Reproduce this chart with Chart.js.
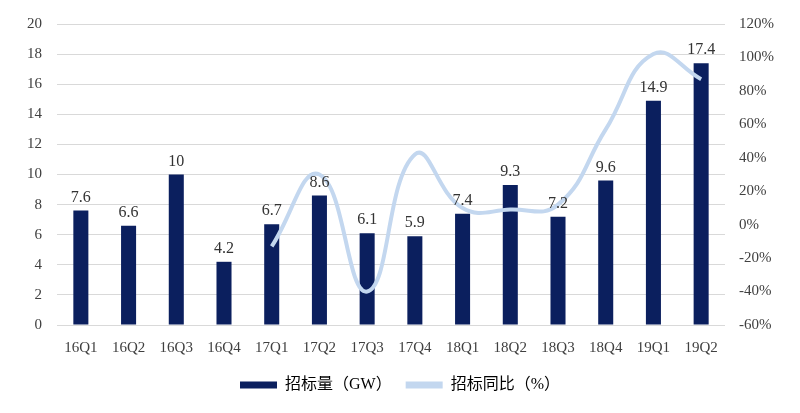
<!DOCTYPE html>
<html>
<head>
<meta charset="utf-8">
<script src="https://cdn.jsdelivr.net/npm/chart.js@4/dist/chart.umd.min.js"></script>
<style>
  html, body { margin: 0; padding: 0; background: #fff; }
  #wrap { width: 800px; height: 413px; }
</style>
</head>
<body>
<div id="wrap"><canvas id="chart" width="800" height="413"></canvas></div>
<script>
// Data
const quarters = ['16Q1','16Q2','16Q3','16Q4','17Q1','17Q2','17Q3','17Q4','18Q1','18Q2','18Q3','18Q4','19Q1','19Q2'];
const volume = [7.6, 6.6, 10, 4.2, 6.7, 8.6, 6.1, 5.9, 7.4, 9.3, 7.2, 9.6, 14.9, 17.4];
const yoy = [null, null, null, null, -13, 30, -40, 42, 10, 9, 12, 57, 102, 87];
const leftTicks = [0, 2, 4, 6, 8, 10, 12, 14, 16, 18, 20];
const rightTicks = [-60, -40, -20, 0, 20, 40, 60, 80, 100, 120];

const fontFamily = '"Liberation Serif", "Noto Sans CJK SC", serif';

// Value labels above the bars
const barLabels = {
    id: 'barLabels',
    afterDatasetsDraw(chart) {
        const ctx = chart.ctx;
        const meta = chart.getDatasetMeta(1);
        ctx.save();
        ctx.font = '16px ' + fontFamily;
        ctx.fillStyle = '#333';
        ctx.textAlign = 'center';
        ctx.textBaseline = 'bottom';
        meta.data.forEach((bar, i) => {
            ctx.fillText(String(volume[i]), bar.x, bar.y - 5);
        });
        ctx.restore();
    }
};

const ctx = document.getElementById('chart').getContext('2d');
new Chart(ctx, {
    data: {
        labels: quarters,
        datasets: [
            {
                type: 'line',
                label: '招标同比（%）',
                data: yoy,
                yAxisID: 'y1',
                borderColor: '#c3d7ef',
                backgroundColor: '#c3d7ef',
                borderWidth: 4,
                pointRadius: 0,
                tension: 0.45,
                order: 0
            },
            {
                type: 'bar',
                label: '招标量（GW）',
                data: volume,
                yAxisID: 'y',
                backgroundColor: '#0b1f5e',
                categoryPercentage: 1,
                barPercentage: 0.315,
                order: 1
            }
        ]
    },
    options: {
        responsive: false,
        animation: false,
        layout: { padding: { left: 12, right: 12, top: 7, bottom: 10 } },
        plugins: {
            legend: {
                position: 'bottom',
                reverse: true,
                labels: {
                    font: { size: 16, family: fontFamily },
                    color: '#404040',
                    boxWidth: 37,
                    boxHeight: 7,
                    padding: 14,
                    generateLabels(chart) {
                        return chart.data.datasets.map((ds, i) => ({
                            text: ds.label,
                            fillStyle: ds.type === 'bar' ? ds.backgroundColor : ds.borderColor,
                            strokeStyle: 'transparent',
                            lineWidth: 0,
                            datasetIndex: i
                        }));
                    }
                }
            },
            tooltip: { enabled: false }
        },
        scales: {
            x: {
                grid: { display: false },
                border: { display: false },
                ticks: { font: { size: 15, family: fontFamily }, color: '#404040', padding: 6 }
            },
            y: {
                position: 'left',
                min: 0,
                max: 20,
                afterBuildTicks: axis => { axis.ticks = leftTicks.map(v => ({ value: v })); },
                grid: { color: '#d9d9d9', lineWidth: 1, drawTicks: false },
                border: { display: false },
                ticks: { font: { size: 15, family: fontFamily }, color: '#404040', padding: 15 }
            },
            y1: {
                position: 'right',
                min: -60,
                max: 120,
                afterBuildTicks: axis => { axis.ticks = rightTicks.map(v => ({ value: v })); },
                grid: { display: false, drawTicks: false },
                border: { display: false },
                ticks: {
                    font: { size: 15, family: fontFamily },
                    color: '#404040',
                    padding: 14,
                    callback: v => v + '%'
                }
            }
        }
    },
    plugins: [barLabels]
});
</script>
</body>
</html>
